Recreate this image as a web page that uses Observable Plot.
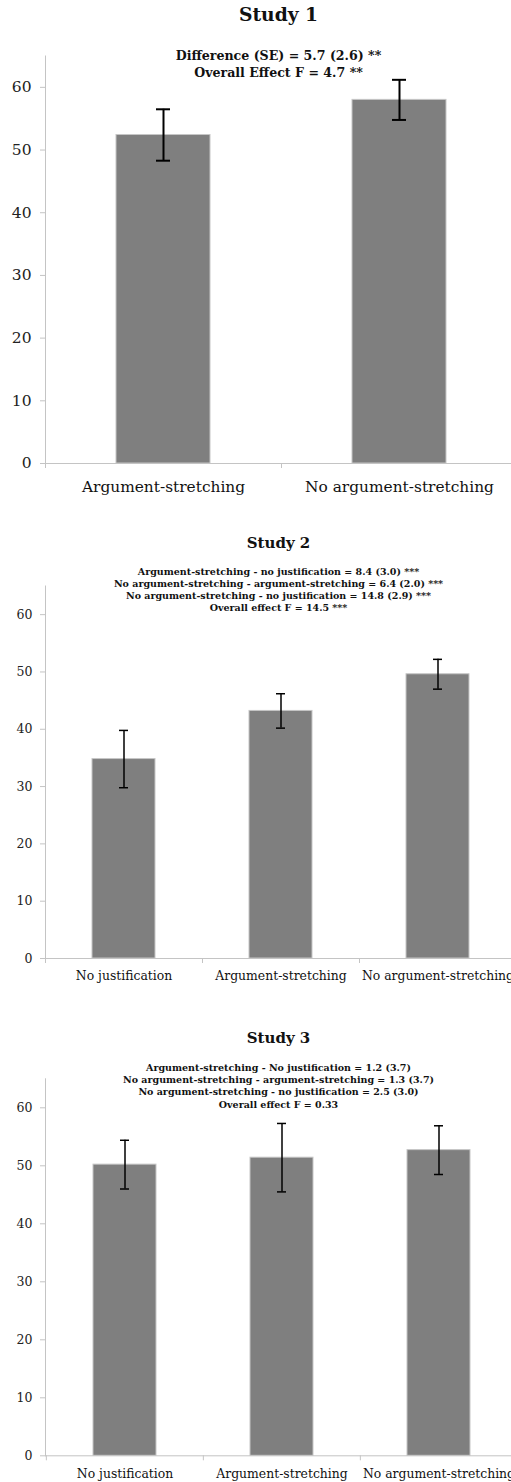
<!DOCTYPE html>
<html><head><meta charset="utf-8">
<script src="https://cdn.jsdelivr.net/npm/d3@7"></script>
<script src="https://cdn.jsdelivr.net/npm/@observablehq/plot@0.6"></script>
<style>
html,body{margin:0;padding:0;background:#fff;overflow:hidden;width:511px;height:1482px;}
.panel{position:absolute;left:0;width:511px;}
</style></head><body>
<div id="p1" class="panel" style="top:0px"></div>
<div id="p2" class="panel" style="top:500px"></div>
<div id="p3" class="panel" style="top:1000px"></div>
<script>
// ---- data ----
const yTicks = [0, 10, 20, 30, 40, 50, 60];

const study1Title = "Study 1";
const study1Categories = ["Argument-stretching", "No argument-stretching"];
const study1Means = [52.4, 58.0];
const study1Errors = [4.1, 3.2];
const study1Notes = ["Difference (SE) = 5.7 (2.6) **", "Overall Effect F = 4.7 **"];

const study2Title = "Study 2";
const study2Categories = ["No justification", "Argument-stretching", "No argument-stretching"];
const study2Means = [34.8, 43.2, 49.6];
const study2Errors = [5.0, 3.0, 2.6];
const study2Notes = [
  "Argument-stretching - no justification = 8.4 (3.0) ***",
  "No argument-stretching - argument-stretching = 6.4 (2.0) ***",
  "No argument-stretching - no justification = 14.8 (2.9) ***",
  "Overall effect F = 14.5 ***"
];

const study3Title = "Study 3";
const study3Categories = ["No justification", "Argument-stretching", "No argument-stretching"];
const study3Means = [50.2, 51.4, 52.7];
const study3Errors = [4.2, 5.9, 4.2];
const study3Notes = [
  "Argument-stretching - No justification = 1.2 (3.7)",
  "No argument-stretching - argument-stretching = 1.3 (3.7)",
  "No argument-stretching - no justification = 2.5 (3.0)",
  "Overall effect F = 0.33"
];

const FONT = "DejaVu Serif";
const AXIS = "#c4c4c4";

function panel(title, categories, means, errors, notes, L) {
  const data = categories.map((c, i) => ({category: c, mean: means[i], se: errors[i]}));
  const n = categories.length;
  return Plot.plot({
    width: 511, height: L.height,
    marginLeft: L.left, marginRight: 0, marginTop: L.top, marginBottom: L.bottom,
    style: {fontFamily: FONT, background: "white", color: "#111"},
    x: {domain: categories, range: [L.left, L.left + L.step * n], paddingInner: 0.6, paddingOuter: 0.3, label: null},
    y: {domain: [0, 65], label: null},
    marks: [
      Plot.barY(data, {x: "category", y: "mean", fill: "#7f7f7f", stroke: "#c6c6c6", strokeWidth: 1}),
      Plot.ruleX(data, {x: "category", y1: d => d.mean - d.se, y2: d => d.mean + d.se, stroke: "#000", strokeWidth: L.ew}),
      Plot.tickY(data, {x: "category", y: d => d.mean - d.se, stroke: "#000", strokeWidth: L.ew, insetLeft: L.capInset, insetRight: L.capInset}),
      Plot.tickY(data, {x: "category", y: d => d.mean + d.se, stroke: "#000", strokeWidth: L.ew, insetLeft: L.capInset, insetRight: L.capInset}),
      Plot.ruleY([0], {stroke: AXIS}),
      Plot.ruleX(categories, {x: d => d, y1: 0, y2: 0, dx: -L.step / 2, insetBottom: -5, stroke: AXIS}),
      Plot.frame({anchor: "left", stroke: AXIS}),
      Plot.axisY({ticks: yTicks, tickSize: 5, tickPadding: L.tp, fontSize: L.yfs, stroke: AXIS, fill: "#222", label: null, tickFormat: d => String(d)}),
      Plot.axisX({tickSize: 0, tickPadding: L.xpad, fontSize: L.xfs, fill: "#111", label: null}),
      Plot.text([title], {frameAnchor: "top", lineAnchor: "middle", dy: L.titleDy, fontSize: L.titleFs, fontWeight: "bold", fill: "#111"}),
      Plot.text([notes.join("\n")], {frameAnchor: "top", lineAnchor: "middle", dy: L.notesDy, fontSize: L.notesFs, lineHeight: L.notesLh, fontWeight: "bold", fill: "#111"})
    ]
  });
}

document.getElementById("p1").append(panel(study1Title, study1Categories, study1Means, study1Errors, study1Notes, {
  height: 500, left: 45, top: 55.5, bottom: 37, step: 236, ew: 2, capInset: 40,
  yfs: 15.5, tp: 9, xfs: 15.4, xpad: 18, titleDy: -40.5, titleFs: 18.7,
  notesDy: 7, notesFs: 12.6, notesLh: 1.35
}));
document.getElementById("p2").append(panel(study2Title, study2Categories, study2Means, study2Errors, study2Notes, {
  height: 500, left: 45, top: 85.5, bottom: 42, step: 157, ew: 1.5, capInset: 27,
  yfs: 12.5, tp: 8, xfs: 12.4, xpad: 13, titleDy: -42.5, titleFs: 15,
  notesDy: 3.5, notesFs: 9.5, notesLh: 1.26
}));
document.getElementById("p3").append(panel(study3Title, study3Categories, study3Means, study3Errors, study3Notes, {
  height: 482, left: 45, top: 78.3, bottom: 26.7, step: 157.3, ew: 1.5, capInset: 27,
  yfs: 12.5, tp: 8, xfs: 12.4, xpad: 13, titleDy: -40.3, titleFs: 15,
  notesDy: 6.4, notesFs: 9.5, notesLh: 1.3
}));
</script>
</body></html>
